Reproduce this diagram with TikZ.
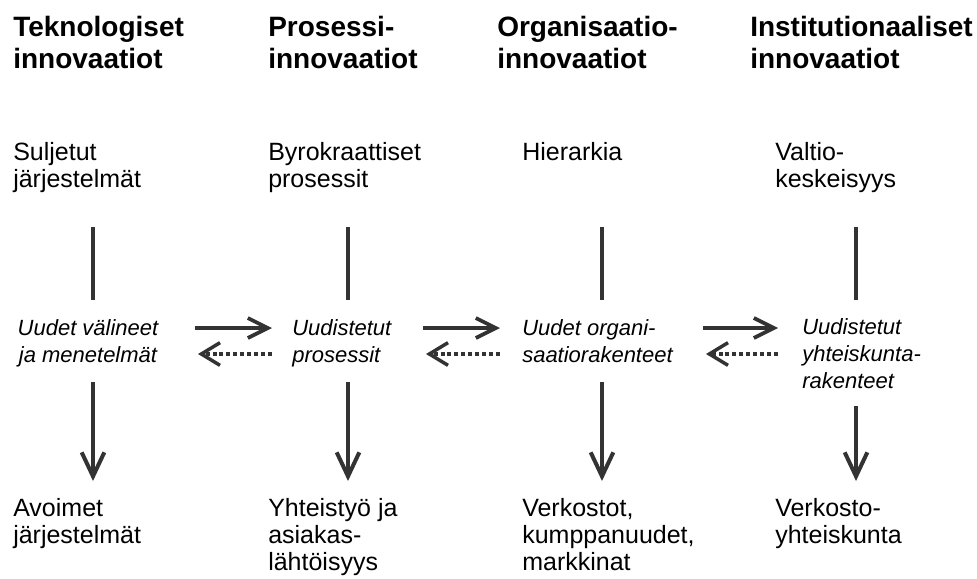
\documentclass[tikz,border=0pt]{standalone}
\usepackage{fontspec}
\setmainfont{Liberation Sans}
\usetikzlibrary{arrows.meta, positioning}
\definecolor{linegray}{RGB}{51, 51, 51}

% anchors sit on the baseline of the last line of each node
\tikzset{
  head/.style={anchor=base west, inner sep=0pt, align=left,
    font=\fontsize{21}{24}\selectfont\bfseries},
  plain/.style={anchor=base west, inner sep=0pt, align=left,
    font=\fontsize{18.75}{20.25}\selectfont},
  mid/.style={anchor=base west, inner sep=0pt, align=left,
    font=\fontsize{16.5}{20.25}\selectfont\itshape},
  bar/.style={draw=linegray, line width=3pt},
  down/.style={bar, -{Straight Barb[length=18pt, width=17pt]}},
  fwd/.style={draw=linegray, line width=2.8pt, -{Straight Barb[length=15pt, width=15pt]}},
  back/.style={draw=linegray, line width=2.6pt, dash pattern=on 3pt off 2.2pt,
    -{Straight Barb[length=14pt, width=17pt]}}
}

\begin{document}
\begin{tikzpicture}[x=0.75pt, y=-0.75pt]
  \useasboundingbox (0,0) rectangle (977,578);

  % column headings
  \node[head] (h1) at (13,68)  {Teknologiset\\innovaatiot};
  \node[head] (h2) at (268,68) {Prosessi-\\innovaatiot};
  \node[head] (h3) at (497,68) {Organisaatio-\\innovaatiot};
  \node[head] (h4) at (750,68) {Institutionaaliset\\innovaatiot};

  % starting points
  \node[plain] (t1) at (13,187)  {Suljetut\\järjestelmät};
  \node[plain] (t2) at (268,187) {Byrokraattiset\\prosessit};
  \node[plain] (t3) at (522,160) {Hierarkia};
  \node[plain] (t4) at (775,187) {Valtio-\\keskeisyys};

  % innovations
  \node[mid, anchor=base, align=center] (m1) at (88,362) {Uudet välineet\\ja menetelmät};
  \node[mid] (m2) at (292,362) {Uudistetut\\prosessit};
  \node[mid] (m3) at (522,362) {Uudet organi-\\saatiorakenteet};
  \node[mid] (m4) at (802,388) {Uudistetut\\yhteiskunta-\\rakenteet};

  % outcomes
  \node[plain] (b1) at (13,543)  {Avoimet\\järjestelmät};
  \node[plain] (b2) at (268,570) {Yhteistyö ja\\asiakas-\\lähtöisyys};
  \node[plain] (b3) at (522,570) {Verkostot,\\kumppanuudet,\\markkinat};
  \node[plain] (b4) at (775,543) {Verkosto-\\yhteiskunta};

  % vertical connectors
  \foreach \i/\x/\ys in {1/93/382, 2/348/382, 3/602/382, 4/856/406} {
    \coordinate (u\i) at (\x,227);
    \coordinate (v\i) at (\x,300);
    \coordinate (p\i) at (\x,\ys);
    \coordinate (q\i) at (\x,481);
    \draw[bar] (u\i) -- (v\i);
    \draw[down] (p\i) -- (q\i);
  }

  % links between the columns
  \foreach \i/\xa/\xb in {1/195/272, 2/423/500, 3/703/778} {
    \coordinate (ra\i) at (\xa,328);
    \coordinate (rb\i) at (\xb,328);
    \coordinate (la\i) at (\xb,354);
    \coordinate (lb\i) at (\xa+3,354);
    \draw[fwd] (ra\i) -- (rb\i);
    \draw[back] (la\i) -- (lb\i);
  }
\end{tikzpicture}
\end{document}
